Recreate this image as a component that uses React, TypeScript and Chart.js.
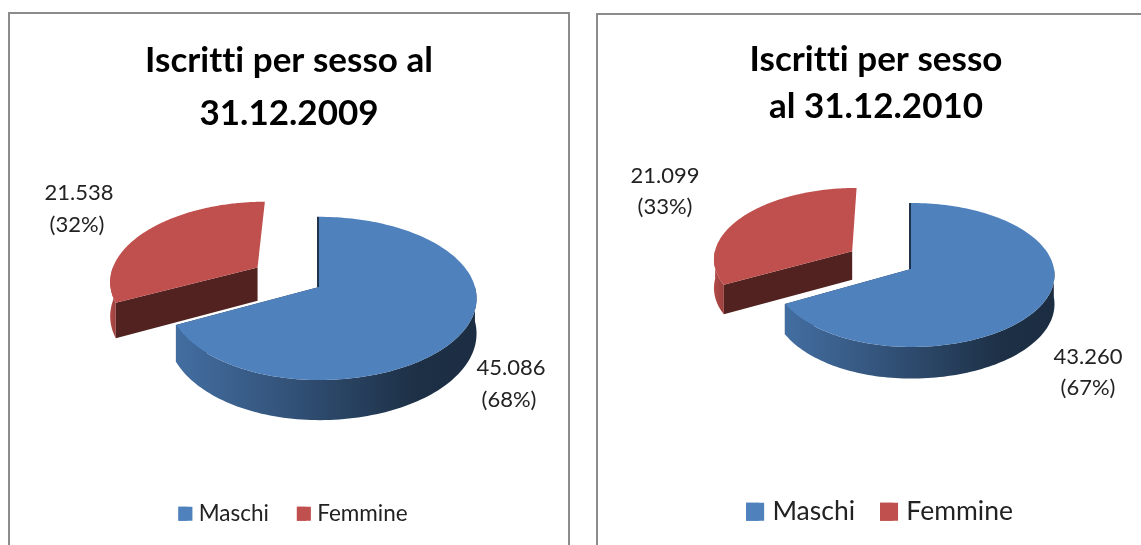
import React, { useEffect, useRef } from "react";
import { Chart, registerables } from "chart.js";

Chart.register(...registerables);

const categories = ["Maschi", "Femmine"];
const values2009 = [45086, 21538];
const values2010 = [43260, 21099];
const title2009 = ["Iscritti per sesso al", "31.12.2009"];
const title2010 = ["Iscritti per sesso", "al 31.12.2010"];
const colors = ["#4F81BD", "#C0504D"];

const FONT = "Lato, Carlito, sans-serif";

type View = {
  cx: number; cy: number; R: number; Ry: number; p: number; d: number; e: number; redShrink: number;
  labels: { x: number; y: number }[]; labelSize: number; pctDx: number; gap: number;
  titleShift: number; legendShift: number; box: number;
};

const view2009: View = {
  cx: 309, cy: 273, R: 156, Ry: 80, p: 0.14, d: 34.5, e: 0.48, redShrink: 0.96,
  labels: [{ x: 501, y: 354 }, { x: 69, y: 179 }], labelSize: 22, pctDx: -2, gap: 32,
  titleShift: 0, legendShift: 4, box: 14,
};
const view2010: View = {
  cx: 313, cy: 254, R: 143, Ry: 71.5, p: 0.083, d: 29, e: 0.49, redShrink: 0.98,
  labels: [{ x: 490, y: 342 }, { x: 67, y: 161 }], labelSize: 22, pctDx: 0, gap: 31,
  titleShift: 6.5, legendShift: 10, box: 18,
};

const itNumber = (v: number) => String(v).replace(/\B(?=(\d{3})+$)/g, ".");

function shade(c: string, k: number) {
  const n = parseInt(c.slice(1), 16);
  const f = (s: number) => Math.round(((n >> s) & 255) * k);
  return `rgb(${f(16)},${f(8)},${f(0)})`;
}

const pie3d = {
  id: "pie3d",
  beforeDraw(chart: any) {
    // a tiny letter spacing switches off Lato's "tt" ligature
    (chart.ctx as any).letterSpacing = "0.01px";
  },
  afterLayout(chart: any) {
    const v: View = chart.options.plugins.pie3d.view;
    chart.titleBlock.left += v.titleShift;
    chart.titleBlock.right += v.titleShift;
    chart.legend.left += v.legendShift;
    chart.legend.right += v.legendShift;
  },
  beforeDatasetDraw(chart: any) {
    const v: View = chart.options.plugins.pie3d.view;
    const ctx: CanvasRenderingContext2D = chart.ctx;
    const arcs = chart.getDatasetMeta(0).data;

    const proj = (u: number, w: number, drop = 0) => {
      const q = 1 - v.p * w;
      return [v.cx + (v.R * u) / q, v.cy + (v.Ry * w) / q + drop / q];
    };

    const sliceGeom = (arc: any, i: number) => {
      const a0 = arc.startAngle, a1 = arc.endAngle;
      const mid = (a0 + a1) / 2;
      const off = i === 1 ? v.e : 0;
      const shrink = i === 1 ? v.redShrink : 0.96;
      const ou = Math.cos(mid) * off, ov = Math.sin(mid) * off;
      const pts: [number, number][] = [];
      const N = 160;
      for (let k = 0; k <= N; k++) {
        const a = a0 + ((a1 - a0) * k) / N;
        const c = Math.cos(a);
        pts.push([ou + (c < 0 ? c * shrink : c), ov + Math.sin(a)]);
      }
      return { apex: [ou, ov] as [number, number], pts };
    };

    const drawSlice = (arc: any, i: number) => {
      const { apex, pts } = sliceGeom(arc, i);
      const base = colors[i];
      // the cut face that looks towards the viewer
      const last = i === 1 ? pts[0] : pts[pts.length - 1];
      const a = proj(apex[0], apex[1]), b = proj(last[0], last[1]);
      const c = proj(last[0], last[1], v.d), dd = proj(apex[0], apex[1], v.d);
      ctx.beginPath();
      ctx.moveTo(a[0], a[1]); ctx.lineTo(b[0], b[1]); ctx.lineTo(c[0], c[1]); ctx.lineTo(dd[0], dd[1]);
      ctx.closePath();
      ctx.fillStyle = shade(base, 0.42);
      ctx.fill();

      // outer rim: only the part of the circle on the viewer's side
      const front = pts.filter((p) => p[1] - apex[1] >= -0.02);
      const scr = pts.map((p) => proj(p[0], p[1]));
      const rim = front.map((p) => proj(p[0], p[1]));
      const xs = rim.map((s) => s[0]);
      const minX = Math.min(...xs), maxX = Math.max(...xs);
      const g = ctx.createLinearGradient(minX, 0, maxX, 0);
      if (i === 0) {
        g.addColorStop(0, shade(base, 0.85));
        g.addColorStop(0.3, shade(base, 0.68));
        g.addColorStop(0.8, shade(base, 0.37));
        g.addColorStop(1, shade(base, 0.35));
      } else {
        g.addColorStop(0, shade(base, 0.92));
        g.addColorStop(1, shade(base, 0.8));
      }
      ctx.beginPath();
      rim.forEach((s, k) => {
        if (k) ctx.lineTo(s[0], s[1]); else ctx.moveTo(s[0], s[1]);
      });
      for (let k = front.length - 1; k >= 0; k--) {
        const s = proj(front[k][0], front[k][1], v.d);
        ctx.lineTo(s[0], s[1]);
      }
      ctx.closePath();
      ctx.fillStyle = g;
      ctx.fill();

      // dark sliver along the blue slice's upright cut edge
      if (i === 0) {
        const t = scr[0];
        ctx.beginPath();
        ctx.moveTo(t[0] - 1, t[1]);
        ctx.lineTo(a[0] - 1, a[1]);
        ctx.strokeStyle = shade(base, 0.4);
        ctx.lineWidth = 2;
        ctx.stroke();
      }

      // top face
      ctx.beginPath();
      ctx.moveTo(a[0], a[1]);
      scr.forEach((s) => ctx.lineTo(s[0], s[1]));
      ctx.closePath();
      ctx.fillStyle = base;
      ctx.fill();
    };

    drawSlice(arcs[1], 1);
    drawSlice(arcs[0], 0);

    // value labels
    const total = chart.data.datasets[0].data.reduce((s: number, x: number) => s + x, 0);
    ctx.save();
    ctx.fillStyle = "#222";
    ctx.textAlign = "center";
    ctx.textBaseline = "middle";
    ctx.font = `${v.labelSize}px ${FONT}`;
    chart.data.datasets[0].data.forEach((val: number, i: number) => {
      const l = v.labels[i];
      ctx.fillText(itNumber(val), l.x, l.y);
      ctx.fillText(`(${Math.round((val / total) * 100)}%)`, l.x + v.pctDx, l.y + v.gap);
    });
    ctx.restore();
    return false;
  },
  afterDraw(chart: any) {
    // widen the legend swatches: the library leaves a fixed gap of half the font size before the text
    const v: View = chart.options.plugins.pie3d.view;
    const ctx: CanvasRenderingContext2D = chart.ctx;
    chart.legend.legendHitBoxes.forEach((h: any, i: number) => {
      ctx.fillStyle = colors[i];
      ctx.fillRect(h.left, h.top + h.height / 2 - v.box / 2, v.box, v.box);
    });
  },
};

function usePie(
  ref: React.RefObject<HTMLCanvasElement | null>,
  title: string[],
  values: number[],
  view: View,
  legendSize: number,
  boxW: number,
  lineHeight: number,
  padTop: number,
  padBottom: number,
  itemGap: number,
) {
  useEffect(() => {
    if (!ref.current) return;
    const chart = new Chart(ref.current, {
      type: "pie",
      data: { labels: categories, datasets: [{ data: values, backgroundColor: colors, borderWidth: 0 }] },
      options: {
        responsive: false,
        animation: false,
        layout: { padding: { top: padTop, bottom: padBottom } },
        plugins: {
          title: {
            display: true,
            text: title,
            color: "#000",
            font: { family: FONT, size: 35, weight: "bold", lineHeight },
            padding: { top: 0, bottom: 0 },
          },
          legend: {
            position: "bottom",
            labels: {
              color: "#222",
              font: { family: FONT, size: legendSize },
              boxWidth: boxW,
              boxHeight: view.box,
              padding: itemGap,
            },
          },
          tooltip: { enabled: false },
          pie3d: { view },
        },
      } as any,
      plugins: [pie3d],
    });
    return () => chart.destroy();
  }, []);
}

export default function App() {
  const a = useRef<HTMLCanvasElement>(null);
  const b = useRef<HTMLCanvasElement>(null);
  usePie(a, title2009, values2009, view2009, 22.5, 9, 1.49, 21, 10, 28);
  usePie(b, title2010, values2010, view2010, 26.5, 13, 1.34, 21, 10, 25);
  const frame: React.CSSProperties = {
    position: "absolute",
    boxSizing: "border-box",
    background: "#fff",
    border: "2px solid #8c8c8c",
    borderBottom: "none",
  };
  return (
    <div style={{ position: "absolute", left: 0, top: 0, width: 1141, height: 545, overflow: "hidden", background: "#fff" }}>
      <div style={{ ...frame, left: 8, top: 12, width: 562, height: 533 }}>
        <canvas ref={a} width={558} height={531} style={{ display: "block" }} />
      </div>
      <div style={{ ...frame, left: 596, top: 13, width: 545, height: 532, borderRight: "none" }}>
        <canvas ref={b} width={543} height={530} style={{ display: "block" }} />
      </div>
    </div>
  );
}
